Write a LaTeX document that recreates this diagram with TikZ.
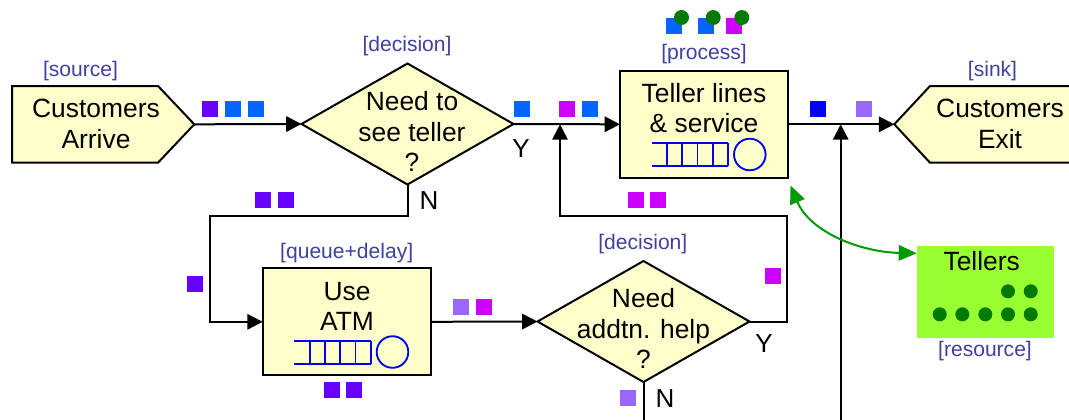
\documentclass[tikz,border=0pt]{standalone}
\usepackage{fontspec}
\setmainfont{Liberation Sans}
\usetikzlibrary{arrows.meta,shapes.geometric}
\definecolor{boxfill}{HTML}{FFFFCC}
\definecolor{lblc}{RGB}{64,64,160}
\definecolor{tkpur}{HTML}{6600FF}
\definecolor{tkblu}{HTML}{0066FF}
\definecolor{tkmag}{HTML}{CC00FF}
\definecolor{tkdbl}{HTML}{0000FF}
\definecolor{tklav}{HTML}{9966FF}
\definecolor{resgreen}{HTML}{99FF33}
\definecolor{dotgreen}{HTML}{007A00}
\definecolor{arrgreen}{HTML}{009900}
\definecolor{qblue}{HTML}{0000EE}
\newcommand\tokn[3]{\fill[#1] (#2,#3) rectangle ++(15.6,15.6);}
\tikzset{qicon/.pic={
  \draw[qblue, line width=1.4pt] (-52.4,18.8) -- (24.3,18.8) (-52.4,41.8) -- (24.3,41.8);
  \foreach \qx in {-37,-21.75,-6.5,8.75,24} {\draw[qblue,line width=1.4pt] (\qx,18.8) -- (\qx,41.8);}
  \draw[qblue,line width=1.4pt] (45.8,30.2) circle[radius=11.85pt];
}}
\begin{document}
\begin{tikzpicture}[x=0.75pt,y=-0.75pt,
 every node/.style={font=\fontsize{19.8}{23}\selectfont, inner sep=0pt, outer sep=0pt},
 mtext/.style={align=center},
 lbl/.style={text=lblc, font=\fontsize{15.8}{18}\selectfont},
 yn/.style={font=\fontsize{19.5}{22}\selectfont},
 boxn/.style={draw, line width=1.5pt, fill=boxfill, rectangle, minimum width=126pt, minimum height=80.25pt},
 decn/.style={draw, line width=1.5pt, fill=boxfill, diamond, minimum width=159pt, minimum height=90.75pt},
 flow/.style={line width=1.5pt, -{Triangle[length=11.5pt,width=11.5pt]}},
 plain/.style={line width=1.5pt},
 garrow/.style={arrgreen, line width=1.5pt, {Triangle[length=13.5pt,width=11.5pt]}-{Triangle[length=13.5pt,width=11.5pt]}}]
\useasboundingbox (0,0) rectangle (1069,419);
\clip (0,0) rectangle (1069,419);

% coordinates
\coordinate (srcTip) at (194.3,124.3);
\coordinate (sinkTip) at (894.3,124.3);
\coordinate (b1) at (210,215.5);
\coordinate (b2) at (787.3,215.5);
\coordinate (m1) at (560,124.3);
\coordinate (m2) at (840.7,124.3);
\coordinate (bot1) at (643.5,430);
\coordinate (bot2) at (840.7,430);
\coordinate (gA) at (790.5,185.5);
\coordinate (gB) at (916.7,253.3);

% source and sink shapes
\draw[plain, fill=boxfill] (12,86) -- (158,86) -- (srcTip) -- (158,162.7) -- (12,162.7) -- cycle;
\draw[plain, fill=boxfill] (1085,86) -- (930,86) -- (sinkTip) -- (930,162.7) -- (1085,162.7) -- cycle;

% blocks
\node[boxn] (proc) at (704,124.3) {};
\node[boxn] (atm) at (346.7,321.8) {};
\node[decn] (d1) at (407.5,124) {};
\node[decn] (d2) at (643.5,321.5) {};
\node[fill=resgreen, minimum width=103pt, minimum height=69pt] (tel) at (985.35,291.7) {};

% connectors
\draw[flow] (srcTip) -- (d1.west);
\draw[flow] (d1.east) -- (proc.west);
\draw[flow] (d1.south) |- (b1) |- (atm.west);
\draw[flow] (atm.east) -- (d2.west);
\draw[flow] (d2.east) -| (b2) -| (m1);
\draw[flow] (proc.east) -- (sinkTip);
\draw[flow] (bot2) -- (m2);
\draw[plain] (d2.south) -- (bot1);
\draw[garrow] (gA) .. controls (810,232) and (860,252) .. (gB);

% queue icons
\pic at (704,124.3) {qicon};
\pic at (346.7,321.8) {qicon};

% texts
\node[mtext] (srct) at (96,124.2) {Customers\\Arrive};
\node[mtext] (d1t) at (412,131.5) {Need to\\see teller\\?};
\node[mtext] (proct) at (704,108.2) {Teller lines\\\& service};
\node[mtext] (atmt) at (347,306.3) {Use\\ATM};
\node[mtext] (d2t) at (643.5,328.7) {Need\\addtn. help\\?};
\node[mtext] (sinkt) at (1000,124) {Customers\\Exit};
\node (telt) at (981.7,261) {Tellers};

% labels
\node[lbl] (l1) at (80.5,71) {[source]};
\node[lbl] (l2) at (407,46.3) {[decision]};
\node[lbl] (l3) at (704,53.8) {[process]};
\node[lbl] (l4) at (992.5,71) {[sink]};
\node[lbl] (l5) at (346.7,253) {[queue+delay]};
\node[lbl] (l6) at (642.8,243.8) {[decision]};
\node[lbl] (l7) at (985,350.8) {[resource]};

\node[yn] (y1) at (521,148.5) {Y};
\node[yn] (n1) at (429,201) {N};
\node[yn] (y2) at (764,344) {Y};
\node[yn] (n2) at (665,399) {N};

% tokens
\tokn{tkpur}{202.3}{101} \tokn{tkblu}{225}{101} \tokn{tkblu}{248}{101}
\tokn{tkblu}{514.3}{101}
\tokn{tkmag}{559.3}{101} \tokn{tkblu}{582}{101}
\tokn{tkdbl}{810}{101} \tokn{tklav}{856}{101}
\tokn{tkpur}{255}{192.3} \tokn{tkpur}{278.3}{192.3}
\tokn{tkpur}{187.3}{276}
\tokn{tkpur}{324}{382.3} \tokn{tkpur}{346}{382.3}
\tokn{tklav}{453.3}{299} \tokn{tkmag}{476}{299}
\tokn{tkmag}{628.3}{192.3} \tokn{tkmag}{650}{192.3}
\tokn{tkmag}{765}{268.3}
\tokn{tklav}{620}{390}
\tokn{tkblu}{666}{18.3} \tokn{tkblu}{698}{18.3} \tokn{tkmag}{726}{18.3}
\fill[dotgreen] (681.5,17.5) circle[radius=5.6pt];
\fill[dotgreen] (713.2,17.5) circle[radius=5.6pt];
\fill[dotgreen] (741.8,17.5) circle[radius=5.6pt];

% teller dots
\foreach \dx in {939.7,962.3,985.3,1008,1030.7} {\fill[dotgreen] (\dx,314.3) circle[radius=5.25pt];}
\foreach \dx in {1008,1030.7} {\fill[dotgreen] (\dx,291.3) circle[radius=5.25pt];}
\end{tikzpicture}
\end{document}
